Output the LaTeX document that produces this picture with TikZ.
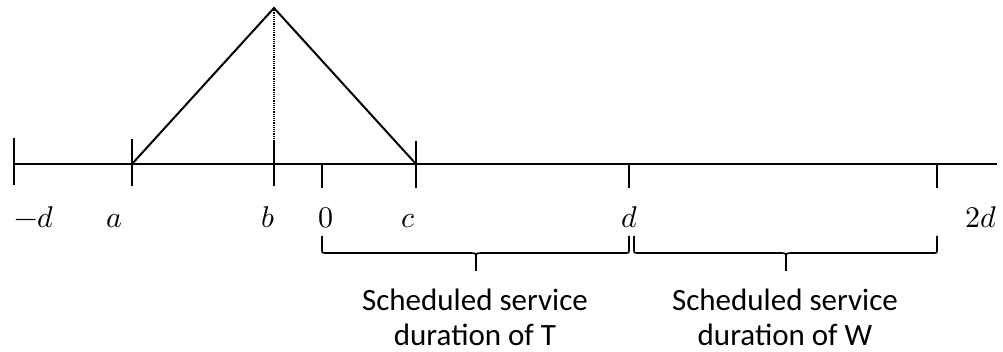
\documentclass[tikz,border=0pt]{standalone}
\usepackage{fontspec}
\usepackage{unicode-math}
\newfontfamily\lblfont{Carlito}
\begin{document}
\begin{tikzpicture}[x=1pt,y=-1pt,
  axis/.style={line width=1.8pt},
  tk/.style={line width=1.6pt},
  curve/.style={line width=2pt, line join=miter},
  brc/.style={line width=1.6pt},
  mlabel/.style={anchor=base, inner sep=0pt, font=\fontsize{30}{36}\selectfont},
  tlabel/.style={anchor=base, inner sep=0pt, font=\lblfont\fontsize{31}{35}\selectfont}]
\useasboundingbox (0,0) rectangle (1003,352);
% axis
\coordinate (L) at (13,164);
\coordinate (R) at (997,164);
\draw[axis] (L) -- (R);
% tick positions
\coordinate (md) at (14,164);
\coordinate (pa) at (132,164);
\coordinate (pb) at (274,164);
\coordinate (p0) at (322,164);
\coordinate (pc) at (416,164);
\coordinate (pd) at (629,164);
\coordinate (p2d) at (937,164);
\coordinate (peak) at (274,8);
% ticks (y grows downward)
\draw[tk] (14,138) -- (14,185);
\draw[tk] (132,139) -- (132,186);
\draw[tk] (274,140) -- (274,186);
\draw[tk] (p0) -- (322,188);
\draw[tk] (416,141) -- (416,188);
\draw[tk] (pd) -- (629,188);
\draw[tk] (p2d) -- (937,188);
% triangle
\draw[curve] (pa) -- (peak) -- (pc);
\draw[line width=1.2pt, densely dotted] (peak) -- (274,140);
% labels
\node[mlabel] (lmd) at (34,228) {$-d$};
\node[mlabel] (la) at (114,228) {$a$};
\node[mlabel] (lb) at (268,228) {$b$};
\node[mlabel] (l0) at (326,228) {$0$};
\node[mlabel] (lc) at (408,228) {$c$};
\node[mlabel] (ld) at (630,228) {$d$};
\node[mlabel] (l2d) at (981,228) {$2d$};
% braces
\coordinate (b1s) at (322,236);
\coordinate (b1e) at (629,236);
\coordinate (b1t) at (476,271);
\coordinate (b2s) at (634,236);
\coordinate (b2e) at (937,236);
\coordinate (b2t) at (786,271);
\draw[brc] (b1s) -- (322,249) .. controls (322,253) .. (326,253) -- (470,253) .. controls (476,253) .. (476,259) -- (b1t);
\draw[brc] (476,259) .. controls (476,253) .. (482,253) -- (625,253) .. controls (629,253) .. (629,249) -- (b1e);
\draw[brc] (b2s) -- (634,249) .. controls (634,253) .. (638,253) -- (780,253) .. controls (786,253) .. (786,259) -- (b2t);
\draw[brc] (786,259) .. controls (786,253) .. (792,253) -- (933,253) .. controls (937,253) .. (937,249) -- (b2e);
% texts
\node[tlabel] (t1) at (475,311) {Scheduled service};
\node[tlabel] (t1b) at (475,345) {duration of T};
\node[tlabel] (t2) at (785,311) {Scheduled service};
\node[tlabel] (t2b) at (785,345) {duration of W};
\end{tikzpicture}
\end{document}
